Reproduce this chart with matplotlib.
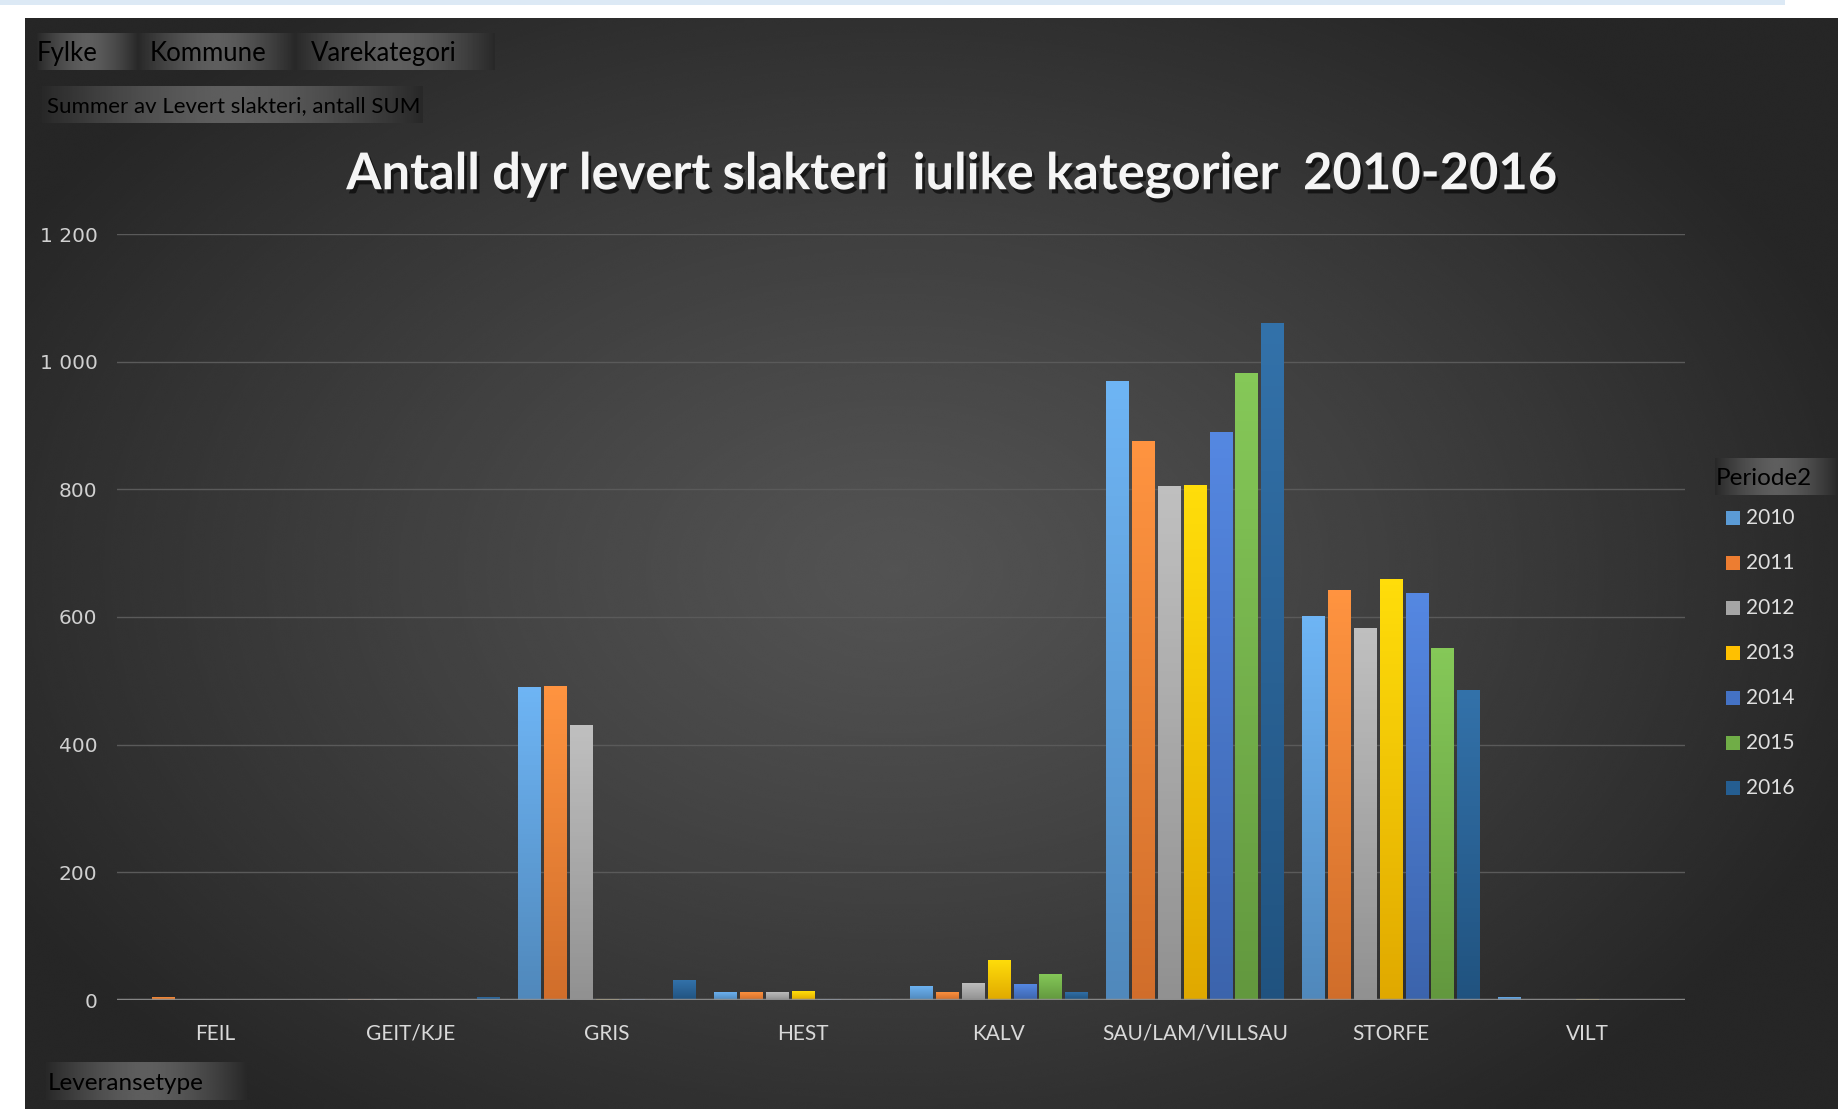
import numpy as np
import matplotlib
matplotlib.use("Agg")
import matplotlib.pyplot as plt
from matplotlib.patches import Rectangle
from matplotlib.colors import LinearSegmentedColormap, to_rgb
from matplotlib.ticker import FuncFormatter
import matplotlib.patheffects as pe

categories = ["FEIL", "GEIT/KJE", "GRIS", "HEST", "KALV", "SAU/LAM/VILLSAU", "STORFE", "VILT"]
years = ["2010", "2011", "2012", "2013", "2014", "2015", "2016"]
v2010 = [0, 0.5, 490, 13, 22, 970, 602, 5]
v2011 = [5, 2, 492, 13, 13, 875, 642, 0.5]
v2012 = [0, 2, 431, 13, 27, 805, 583, 0]
v2013 = [0, 0, 2, 14, 63, 807, 660, 2]
v2014 = [0, 0, 1, 1, 25, 890, 637, 0]
v2015 = [0, 0, 0, 0, 41, 983, 552, 0]
v2016 = [0, 5, 31, 1, 13, 1060, 486, 0]
values = [v2010, v2011, v2012, v2013, v2014, v2015, v2016]
colors = ["#5B9BD5", "#ED7D31", "#A5A5A5", "#FFC000", "#4472C4", "#70AD47", "#255E91"]

title = "Antall dyr levert slakteri  iulike kategorier  2010-2016"
filter_fields = ["Fylke", "Kommune", "Varekategori"]
value_field = "Summer av Levert slakteri, antall SUM"
axis_field = "Leveransetype"
legend_field = "Periode2"

W, H = 1838, 1109
fig = plt.figure(figsize=(W / 100, H / 100), dpi=100, facecolor="white")

# background layer in pixel coordinates
bg = fig.add_axes([0, 0, 1, 1])
bg.set_xlim(0, W)
bg.set_ylim(H, 0)
bg.axis("off")
bg.add_patch(Rectangle((0, 0), 1785, 5, color="#dce9f5", lw=0))

yy, xx = np.mgrid[0:H:2, 0:W:2]
d = np.sqrt(((xx - 880) / 1000.0) ** 2 + ((yy - 560) / 680.0) ** 2)
shade = np.clip(0.325 - 0.17 * d ** 1.2, 0.15, 0.33)
bg.imshow(shade, cmap="gray", vmin=0, vmax=1, extent=(25, W, H, 18), aspect="auto",
          interpolation="bicubic", zorder=1)


def button(x0, x1, y0, y1, label, tx, size):
    g = np.linspace(-1, 1, 200)
    row = 0.37 - 0.21 * np.abs(g) ** 1.6
    bg.imshow(row[None, :], cmap="gray", vmin=0, vmax=1, extent=(x0, x1, y1, y0),
              aspect="auto", zorder=2)
    bg.text(tx, (y0 + y1) / 2 + 2, label, color="black", fontsize=size, family="Lato",
            va="center", ha="left", zorder=3)


btn_edges = [37, 138, 295, 495]
btn_text_x = [37, 150, 311]
for i, f in enumerate(filter_fields):
    button(btn_edges[i], btn_edges[i + 1], 33, 70, f, btn_text_x[i], 18.5)
button(42, 423, 86, 123, value_field, 47, 16)
button(46, 247, 1062, 1100, axis_field, 48, 17.5)
button(1715, W, 458, 495, legend_field, 1716, 17.5)

bg.set_xlim(0, W)
bg.set_ylim(H, 0)

# legend
for i, (yr, c) in enumerate(zip(years, colors)):
    yc = 518 + i * 45
    bg.add_patch(Rectangle((1726, yc - 7), 14, 14, color=c, lw=0, zorder=3))
    bg.text(1746, yc, yr, color="#e0e0e0", fontsize=15, family="Lato", va="center", zorder=3)

bg.text(952, 175, title, color="#f5f5f5", fontsize=36.5, family="Lato", fontweight="bold",
        ha="center", va="center", zorder=3,
        path_effects=[pe.withSimplePatchShadow(offset=(2, -3), shadow_rgbFace="black", alpha=0.6)])

# chart
ax = fig.add_axes([117 / W, (H - 1000) / H, (1685 - 117) / W, (1000 - 234) / H])
ax.patch.set_alpha(0)
x = np.arange(len(categories))
step = 0.1317
width = 0.1138
for i, (vals, c) in enumerate(zip(values, colors)):
    rgb = np.array(to_rgb(c))
    cmap = LinearSegmentedColormap.from_list("g", [rgb * 0.88, np.minimum(rgb * 1.1 + 0.04, 1)])
    bars = ax.bar(x + (i - 3) * step, vals, width, color=c, lw=0, zorder=3)
    for b in bars:
        h = b.get_height()
        if h <= 0:
            continue
        im = ax.imshow(np.linspace(0, 1, 64)[:, None], cmap=cmap, origin="lower", aspect="auto",
                       extent=(b.get_x(), b.get_x() + b.get_width(), 0, h), zorder=3.5)
        im.set_clip_path(b)

ax.set_xlim(-0.5, len(categories) - 0.5)
ax.set_ylim(0, 1200)
ax.set_yticks(range(0, 1201, 200))
ax.yaxis.set_major_formatter(FuncFormatter(lambda v, p: f"{int(v):,}".replace(",", " ")))
ax.grid(axis="y", color="#5a5a5a", lw=1, zorder=0)
ax.axhline(0, color="#8f8f8f", lw=2.5, alpha=0.9, zorder=5)
for s in ax.spines.values():
    s.set_visible(False)
ax.set_xticks(x)
ax.set_xticklabels(categories, family="Lato", fontsize=15, color="#d9d9d9")
ax.tick_params(axis="x", length=0, pad=17)
ax.tick_params(axis="y", length=0, pad=14, labelcolor="#d0d0d0", labelsize=14.5)

fig.savefig("out.png", dpi=100, facecolor="white")
